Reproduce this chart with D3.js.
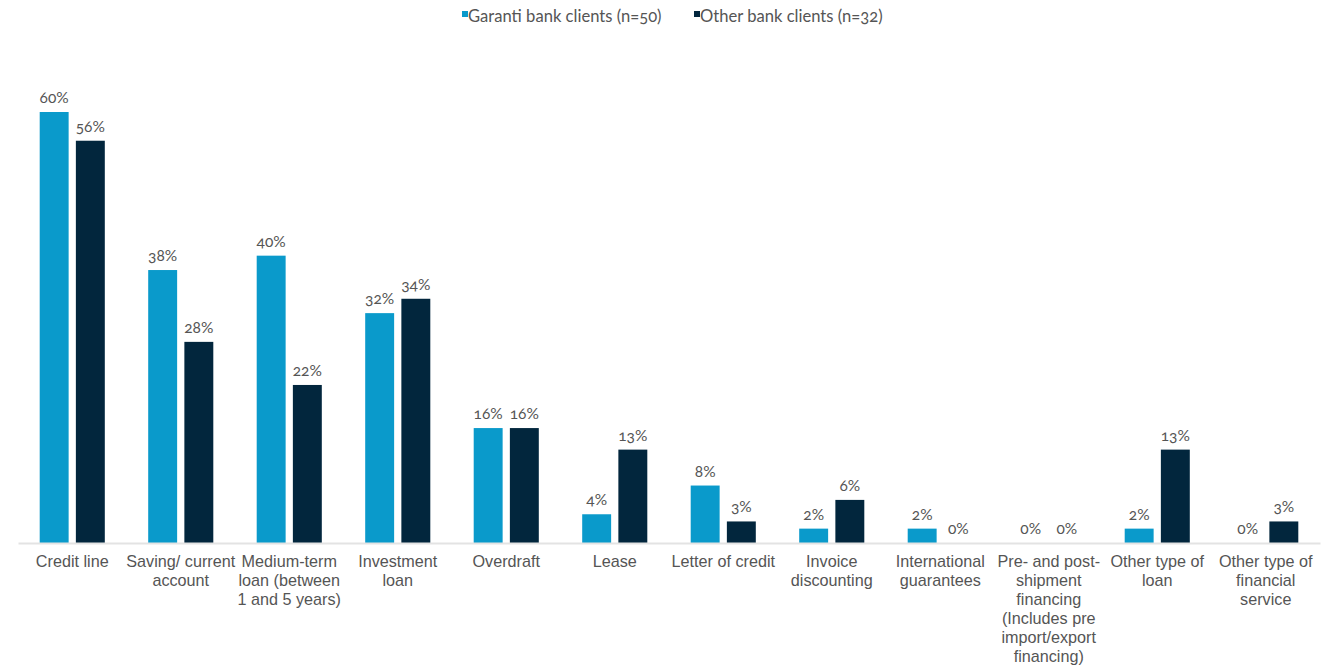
<!DOCTYPE html>
<html>
<head>
<meta charset="utf-8">
<script src="https://cdn.jsdelivr.net/npm/d3@7"></script>
<style>
  html, body { margin: 0; padding: 0; background: #fff; }
  svg { display: block; font-family: Lato, "Open Sans", sans-serif; font-feature-settings: "onum" 1; }
  .axis .domain { stroke: #e3e3e3; stroke-width: 2; }
  .axis text { fill: #555; font-size: 16.2px; }
  .val { fill: #555; font-size: 15.5px; }
  .legend text { fill: #555; font-size: 16.6px; }
</style>
</head>
<body>
<svg id="chart" width="1327" height="666"></svg>
<script>
// Category labels; "\n" marks a line break in the axis label
const categories = [
  "Credit line",
  "Saving/ current\naccount",
  "Medium-term\nloan (between\n1 and 5 years)",
  "Investment\nloan",
  "Overdraft",
  "Lease",
  "Letter of credit",
  "Invoice\ndiscounting",
  "International\nguarantees",
  "Pre- and post-\nshipment\nfinancing\n(Includes pre\nimport/export\nfinancing)",
  "Other type of\nloan",
  "Other type of\nfinancial\nservice"
];
const seriesNames = ["Garanti bank clients (n=50)", "Other bank clients (n=32)"];
const garanti = [60, 38, 40, 32, 16, 4, 8, 2, 2, 0, 2, 0];
const other   = [56, 28, 22, 34, 16, 13, 3, 6, 0, 0, 13, 3];
const colors = ["#0a9acb", "#02263d"];

const svg = d3.select("#chart");
const baseY = 543;

const rows = categories.map((c, i) => ({ cat: c, vals: [garanti[i], other[i]] }));

const x0 = d3.scaleBand().domain(categories).range([18, 1320]).paddingInner(0.4).paddingOuter(0.2);
const x1 = d3.scaleBand().domain([0, 1]).range([0, x0.bandwidth()]).paddingInner(0.2);
const y = d3.scaleLinear().domain([0, 60]).range([baseY, 112]);

// Bars
const groups = svg.append("g").selectAll("g").data(rows).join("g")
  .attr("transform", d => `translate(${x0(d.cat)},0)`);

groups.selectAll("rect").data(d => d.vals.map((v, s) => ({ v, s }))).join("rect")
  .attr("x", d => x1(d.s))
  .attr("width", x1.bandwidth())
  .attr("y", d => y(d.v))
  .attr("height", d => baseY - y(d.v))
  .attr("fill", d => colors[d.s]);

groups.selectAll("text").data(d => d.vals.map((v, s) => ({ v, s }))).join("text")
  .attr("class", "val")
  .attr("x", d => x1(d.s) + x1.bandwidth() / 2)
  .attr("y", d => y(d.v) - 9)
  .attr("text-anchor", "middle")
  .text(d => d.v + "%");

// Category axis
const axis = svg.append("g").attr("class", "axis")
  .attr("transform", `translate(0,${baseY})`)
  .call(d3.axisBottom(x0).tickSize(0).tickSizeOuter(0));

axis.selectAll(".tick text").each(function(d) {
  const t = d3.select(this).text(null).attr("y", 0).attr("dy", null);
  d.split("\n").forEach((line, i) => {
    t.append("tspan").attr("x", 0).attr("y", 24 + i * 19).text(line);
  });
});

// Legend
const legend = svg.append("g").attr("class", "legend");
const legendX = [462, 694];
seriesNames.forEach((name, i) => {
  legend.append("rect").attr("x", legendX[i]).attr("y", 11).attr("width", 6).attr("height", 6).attr("fill", colors[i]);
  legend.append("text").attr("x", legendX[i] + 6).attr("y", 22).text(name);
});
</script>
</body>
</html>
